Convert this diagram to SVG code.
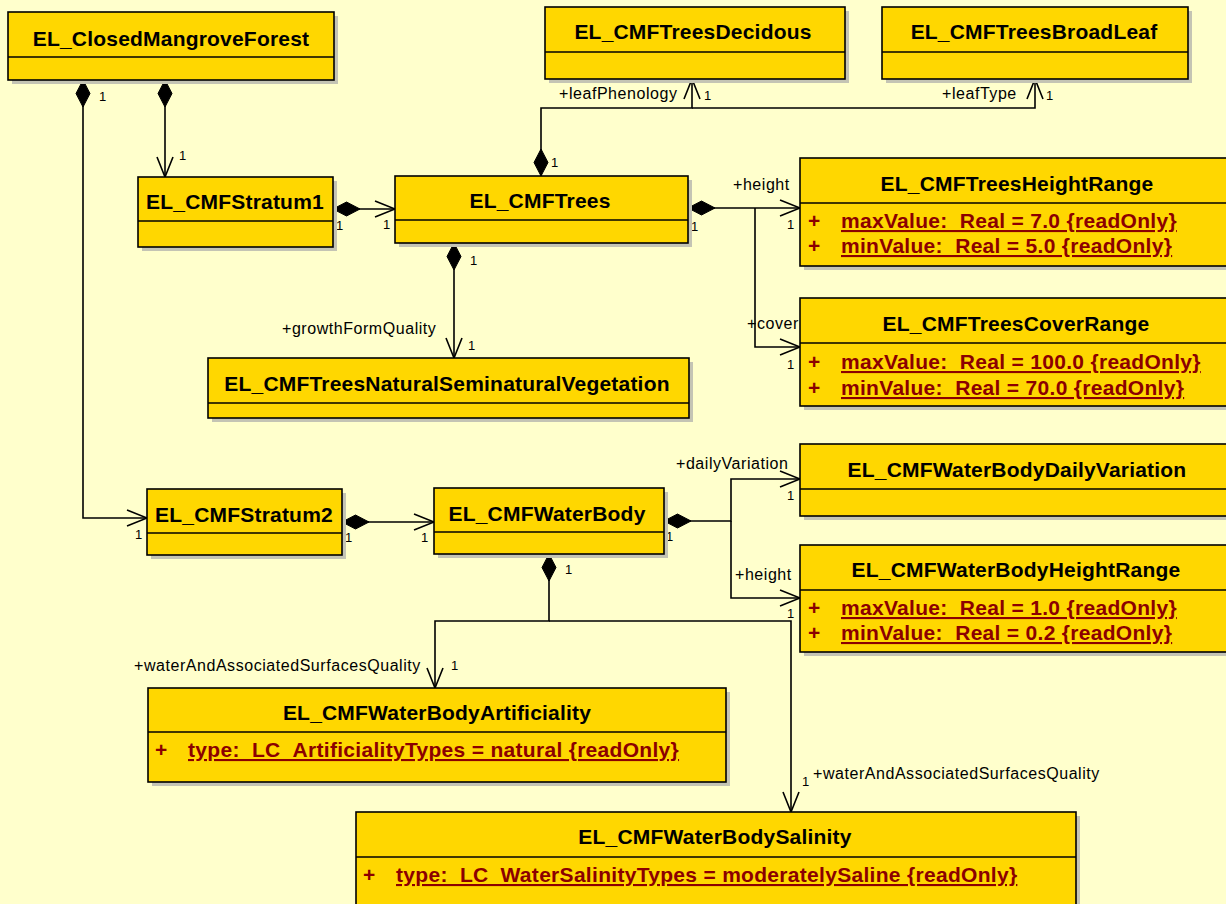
<svg xmlns="http://www.w3.org/2000/svg" width="1226" height="904" viewBox="0 0 1226 904">
  <style>
    .shadow { fill: #c4c4b4; }
    .box { fill: #ffd700; stroke: #000; stroke-width: 1.6; }
    .div { stroke: #000; stroke-width: 1.4; }
    .title { font-family: "Liberation Sans", Arial, sans-serif; font-weight: bold; font-size: 21px; fill: #000; text-anchor: middle; letter-spacing: 0.2px; }
    .attr { font-family: "Liberation Sans", Arial, sans-serif; font-weight: bold; font-size: 21px; fill: #8b0000; white-space: pre; text-decoration: underline; letter-spacing: 0.3px; }
    .plus { font-family: "Liberation Sans", Arial, sans-serif; font-weight: bold; font-size: 21px; fill: #8b0000; }
    .lbl { font-family: "Liberation Sans", Arial, sans-serif; font-size: 16px; fill: #000; letter-spacing: 0.55px; }
    .m { font-family: "Liberation Sans", Arial, sans-serif; font-size: 13px; fill: #000; }
    .conn { fill: none; stroke: #000; stroke-width: 1.6; }
    .comp { marker-start: url(#diamond); }
    .nav { marker-end: url(#arrow); }
  </style>
  <defs>
    <marker id="diamond" viewBox="-1 -8 29 16" refX="0" refY="0" markerWidth="29" markerHeight="16" markerUnits="userSpaceOnUse" orient="auto">
      <path d="M0,0 L13.5,-7 L27,0 L13.5,7 Z" fill="#000" stroke="#000" stroke-width="1"/>
    </marker>
    <marker id="arrow" viewBox="-22 -10 24 20" refX="0" refY="0" markerWidth="24" markerHeight="20" markerUnits="userSpaceOnUse" orient="auto">
      <path d="M-20,-8 L0,0 L-20,8" fill="none" stroke="#000" stroke-width="1.6"/>
    </marker>
  </defs>

  <rect width="1226" height="904" fill="#ffffcc"/>

  <!-- associations -->
  <g id="connectors">
    <path class="conn comp nav" d="M83,80 V518 H147"/>
    <path class="conn comp nav" d="M165,80 V177"/>
    <path class="conn comp nav" d="M333,209 H395"/>
    <path class="conn comp nav" d="M541,176 V108 H692 V79"/>
    <path class="conn nav" d="M692,108 H1035 V79"/>
    <path class="conn comp nav" d="M688,208 H800"/>
    <path class="conn nav" d="M755,208 V347 H800"/>
    <path class="conn comp nav" d="M454,243 V358"/>
    <path class="conn comp nav" d="M342,522 H434"/>
    <path class="conn comp nav" d="M664,521 H731 V479 H800"/>
    <path class="conn nav" d="M731,521 V598 H800"/>
    <path class="conn comp nav" d="M549,554 V621 H435 V688"/>
    <path class="conn nav" d="M549,621 H791 V812"/>

    <text class="m" x="99" y="101">1</text>
    <text class="m" x="179" y="160">1</text>
    <text class="m" x="336" y="230">1</text>
    <text class="m" x="383" y="229">1</text>
    <text class="lbl" x="559" y="99">+leafPhenology</text>
    <text class="m" x="704" y="100">1</text>
    <text class="lbl" x="942" y="99">+leafType</text>
    <text class="m" x="1046" y="100">1</text>
    <text class="m" x="551" y="167">1</text>
    <text class="lbl" x="733" y="190">+height</text>
    <text class="m" x="691" y="231">1</text>
    <text class="m" x="787" y="229">1</text>
    <text class="lbl" x="747" y="329">+cover</text>
    <text class="m" x="787" y="369">1</text>
    <text class="m" x="470" y="265">1</text>
    <text class="lbl" x="282" y="334">+growthFormQuality</text>
    <text class="m" x="468" y="350">1</text>
    <text class="m" x="135" y="539">1</text>
    <text class="m" x="345" y="542">1</text>
    <text class="m" x="421" y="542">1</text>
    <text class="m" x="565" y="574">1</text>
    <text class="m" x="666" y="541">1</text>
    <text class="lbl" x="676" y="469">+dailyVariation</text>
    <text class="m" x="787" y="500">1</text>
    <text class="lbl" x="735" y="580">+height</text>
    <text class="m" x="787" y="618">1</text>
    <text class="lbl" x="134" y="671">+waterAndAssociatedSurfacesQuality</text>
    <text class="m" x="451" y="670">1</text>
    <text class="m" x="802" y="786">1</text>
    <text class="lbl" x="813" y="779">+waterAndAssociatedSurfacesQuality</text>
  </g>

  <g id="EL_ClosedMangroveForest">
    <rect class="shadow" x="12" y="16" width="326" height="68"/>
    <rect class="box" x="8" y="12" width="326" height="68"/>
    <line class="div" x1="8" y1="57" x2="334" y2="57"/>
    <text class="title" x="171" y="46">EL_ClosedMangroveForest</text>
  </g>

  <g id="EL_CMFTreesDecidous">
    <rect class="shadow" x="549" y="11" width="300" height="72"/>
    <rect class="box" x="545" y="7" width="300" height="72"/>
    <line class="div" x1="545" y1="52" x2="845" y2="52"/>
    <text class="title" x="693" y="39">EL_CMFTreesDecidous</text>
  </g>

  <g id="EL_CMFTreesBroadLeaf">
    <rect class="shadow" x="886" y="11" width="306" height="72"/>
    <rect class="box" x="882" y="7" width="306" height="72"/>
    <line class="div" x1="882" y1="52" x2="1188" y2="52"/>
    <text class="title" x="1034" y="39">EL_CMFTreesBroadLeaf</text>
  </g>

  <g id="EL_CMFStratum1">
    <rect class="shadow" x="142" y="181" width="195" height="70"/>
    <rect class="box" x="138" y="177" width="195" height="70"/>
    <line class="div" x1="138" y1="221" x2="333" y2="221"/>
    <text class="title" x="235" y="209">EL_CMFStratum1</text>
  </g>

  <g id="EL_CMFTrees">
    <rect class="shadow" x="399" y="180" width="293" height="67"/>
    <rect class="box" x="395" y="176" width="293" height="67"/>
    <line class="div" x1="395" y1="220" x2="688" y2="220"/>
    <text class="title" x="540" y="208">EL_CMFTrees</text>
  </g>

  <g id="EL_CMFTreesHeightRange">
    <rect class="shadow" x="804" y="162" width="440" height="108"/>
    <rect class="box" x="800" y="158" width="440" height="108"/>
    <line class="div" x1="800" y1="203" x2="1240" y2="203"/>
    <text class="title" x="1017" y="191">EL_CMFTreesHeightRange</text>
    <text class="plus" x="808" y="228">+</text>
    <text class="attr" x="841" y="228">maxValue:  Real = 7.0 {readOnly}</text>
    <text class="plus" x="808" y="253">+</text>
    <text class="attr" x="841" y="253">minValue:  Real = 5.0 {readOnly}</text>
  </g>

  <g id="EL_CMFTreesCoverRange">
    <rect class="shadow" x="804" y="302" width="440" height="108"/>
    <rect class="box" x="800" y="298" width="440" height="108"/>
    <line class="div" x1="800" y1="343" x2="1240" y2="343"/>
    <text class="title" x="1016" y="331">EL_CMFTreesCoverRange</text>
    <text class="plus" x="808" y="369">+</text>
    <text class="attr" x="841" y="369">maxValue:  Real = 100.0 {readOnly}</text>
    <text class="plus" x="808" y="395">+</text>
    <text class="attr" x="841" y="395">minValue:  Real = 70.0 {readOnly}</text>
  </g>

  <g id="EL_CMFTreesNaturalSeminaturalVegetation">
    <rect class="shadow" x="212" y="362" width="481" height="60"/>
    <rect class="box" x="208" y="358" width="481" height="60"/>
    <line class="div" x1="208" y1="403" x2="689" y2="403"/>
    <text class="title" x="447" y="391">EL_CMFTreesNaturalSeminaturalVegetation</text>
  </g>

  <g id="EL_CMFStratum2">
    <rect class="shadow" x="151" y="493" width="195" height="66"/>
    <rect class="box" x="147" y="489" width="195" height="66"/>
    <line class="div" x1="147" y1="533" x2="342" y2="533"/>
    <text class="title" x="244" y="522">EL_CMFStratum2</text>
  </g>

  <g id="EL_CMFWaterBody">
    <rect class="shadow" x="438" y="492" width="230" height="66"/>
    <rect class="box" x="434" y="488" width="230" height="66"/>
    <line class="div" x1="434" y1="532" x2="664" y2="532"/>
    <text class="title" x="547" y="521">EL_CMFWaterBody</text>
  </g>

  <g id="EL_CMFWaterBodyDailyVariation">
    <rect class="shadow" x="804" y="448" width="440" height="72"/>
    <rect class="box" x="800" y="444" width="440" height="72"/>
    <line class="div" x1="800" y1="489" x2="1240" y2="489"/>
    <text class="title" x="1017" y="477">EL_CMFWaterBodyDailyVariation</text>
  </g>

  <g id="EL_CMFWaterBodyHeightRange">
    <rect class="shadow" x="804" y="549" width="440" height="107"/>
    <rect class="box" x="800" y="545" width="440" height="107"/>
    <line class="div" x1="800" y1="590" x2="1240" y2="590"/>
    <text class="title" x="1016" y="577">EL_CMFWaterBodyHeightRange</text>
    <text class="plus" x="808" y="615">+</text>
    <text class="attr" x="841" y="615">maxValue:  Real = 1.0 {readOnly}</text>
    <text class="plus" x="808" y="640">+</text>
    <text class="attr" x="841" y="640">minValue:  Real = 0.2 {readOnly}</text>
  </g>

  <g id="EL_CMFWaterBodyArtificiality">
    <rect class="shadow" x="152" y="692" width="578" height="94"/>
    <rect class="box" x="148" y="688" width="578" height="94"/>
    <line class="div" x1="148" y1="732" x2="726" y2="732"/>
    <text class="title" x="437" y="720">EL_CMFWaterBodyArtificiality</text>
    <text class="plus" x="155" y="757">+</text>
    <text class="attr" x="188" y="757">type:  LC_ArtificialityTypes = natural {readOnly}</text>
  </g>

  <g id="EL_CMFWaterBodySalinity">
    <rect class="shadow" x="360" y="816" width="720" height="110"/>
    <rect class="box" x="356" y="812" width="720" height="110"/>
    <line class="div" x1="356" y1="857" x2="1076" y2="857"/>
    <text class="title" x="715" y="844">EL_CMFWaterBodySalinity</text>
    <text class="plus" x="363" y="882">+</text>
    <text class="attr" x="396" y="882">type:  LC_WaterSalinityTypes = moderatelySaline {readOnly}</text>
  </g>
</svg>
